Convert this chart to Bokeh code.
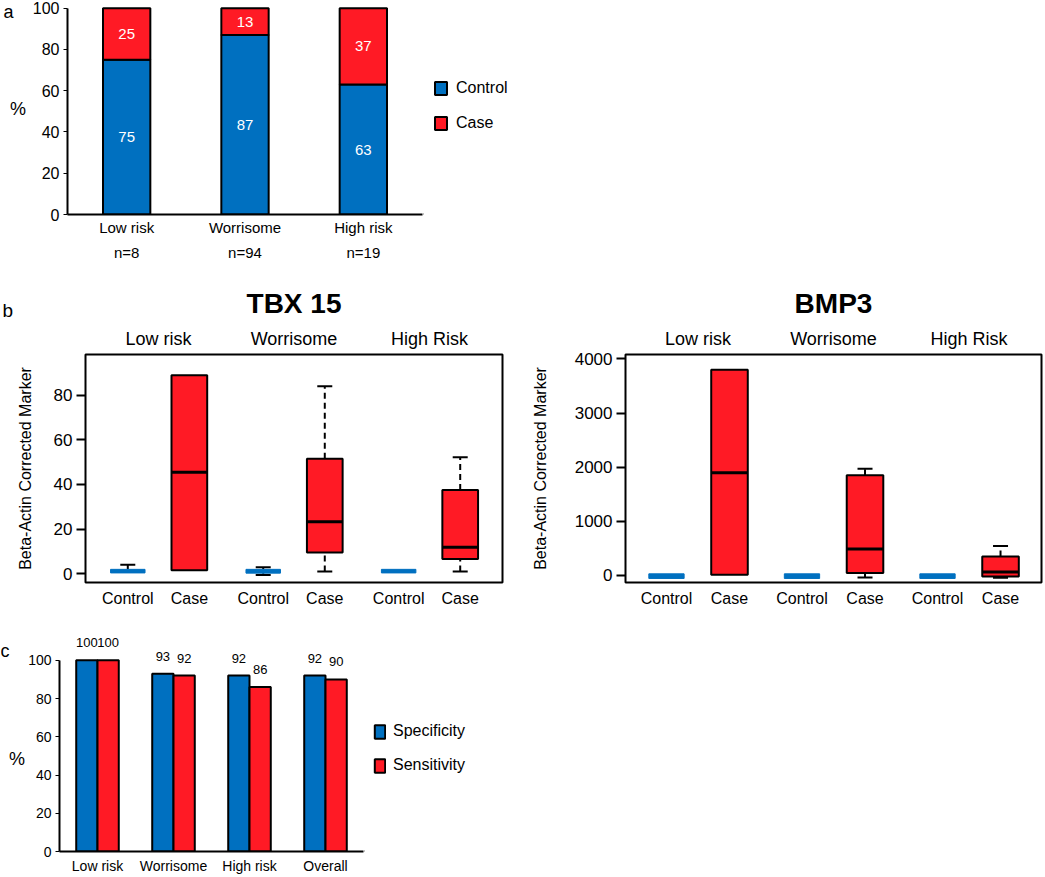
from bokeh.plotting import figure
from bokeh.models import (Range1d, FactorRange, CategoricalAxis, Legend, LegendItem,
                          Label, Title, FixedTicker, ColumnDataSource)
from bokeh.layouts import column, row
from bokeh.transform import dodge
from bokeh.core.properties import value
from bokeh.embed import file_html
from bokeh.resources import INLINE

# ---------------- data ----------------
# panel a
risk_cats = ["Low risk", "Worrisome", "High risk"]
risk_n = ["n=8", "n=94", "n=19"]
control_pct = [75, 87, 63]
case_pct = [25, 13, 37]

# panel b
box_groups = ["Low risk", "Worrisome", "High Risk"]
box_subs = ["Control", "Case"]
# order: (Low,Control),(Low,Case),(Wor,Control),(Wor,Case),(High,Control),(High,Case)
tbx_wlo = [0.3, 1.5, -0.6, 0.9, 0.3, 0.9]
tbx_q1 = [0.3, 1.5, 0.2, 9.5, 0.3, 6.5]
tbx_med = [1.0, 45.5, 1.0, 23.3, 1.0, 11.8]
tbx_q3 = [1.9, 89.0, 1.9, 51.5, 1.9, 37.5]
tbx_whi = [4.0, 89.0, 2.8, 84.0, 1.9, 52.2]

bmp_wlo = [-55, 13, -55, -37, -55, -40]
bmp_q1 = [-55, 13, -55, 45, -55, -20]
bmp_med = [0, 1895, 0, 490, 0, 65]
bmp_q3 = [30, 3800, 30, 1850, 30, 350]
bmp_whi = [30, 3800, 30, 1970, 30, 545]

# panel c
perf_cats = ["Low risk", "Worrisome", "High risk", "Overall"]
specificity = [100, 93, 92, 92]
sensitivity = [100, 92, 86, 90]

BLUE = "#0070C0"
RED = "#FF1A25"
FONT = "Liberation Sans"


def base_style(p):
    p.grid.visible = False
    p.background_fill_color = None
    p.border_fill_color = None


def blank_fig(width, height, yr=None):
    f = figure(width=width, height=height, x_range=Range1d(0, width),
               y_range=yr if yr is not None else Range1d(0, height),
               x_axis_type=None, y_axis_type=None,
               output_backend="svg", toolbar_location=None, min_border=0)
    f.outline_line_color = None
    f.background_fill_color = None
    f.border_fill_color = None
    return f


def side_text(f, x, y, text, size, align="left"):
    f.add_layout(Label(x=x, y=y, text=text, text_font=FONT, text_font_size=size,
                       text_align=align, text_baseline="middle", text_color="black"))


def legend_fig(width, height, labels, colors, loc, gw, gh, spacing, standoff):
    f = blank_fig(width, height)
    items = []
    for lab, col in zip(labels, colors):
        # a swatch source lying outside the visible range: only the legend shows it
        r = f.vbar(x=[-100], top=[0], width=1, fill_color=col, line_color="black",
                   line_width=2)
        items.append(LegendItem(label=lab, renderers=[r]))
    leg = Legend(items=items, location=loc, margin=0, padding=0, border_line_color=None,
                 background_fill_alpha=0, glyph_width=gw, glyph_height=gh, label_height=gh,
                 spacing=spacing, label_standoff=standoff, label_text_font=FONT,
                 label_text_font_size="16px", label_text_color="black")
    f.add_layout(leg)
    return f


# ---------------- panel a ----------------
HA = 263
YA = (0, 100.8)
SA = 28
pa = figure(width=395, height=HA, x_range=FactorRange(*risk_cats, range_padding=0),
            y_range=Range1d(*YA), output_backend="svg", toolbar_location=None,
            min_border_left=67 - SA, min_border_right=1, min_border_top=6,
            min_border_bottom=HA - 214)
base_style(pa)
pa.outline_line_color = None
src_a = ColumnDataSource(dict(cat=risk_cats, Control=control_pct, Case=case_pct,
                              lab_ctrl=[str(v) for v in control_pct],
                              lab_case=[str(v) for v in case_pct],
                              y_ctrl=[v / 2 for v in control_pct],
                              y_case=[c + k / 2 for c, k in zip(control_pct, case_pct)]))
pa.vbar_stack(["Control", "Case"], x="cat", width=0.4, source=src_a,
              fill_color=[BLUE, RED], line_color="black", line_width=2)
for ycol, tcol in (("y_ctrl", "lab_ctrl"), ("y_case", "lab_case")):
    pa.text(x="cat", y=ycol, text=tcol, source=src_a, text_color="white",
            text_align="center", text_baseline="middle", text_font=value(FONT),
            text_font_size="15px")
pa.yaxis.ticker = FixedTicker(ticks=[0, 20, 40, 60, 80, 100])
pa.yaxis.bounds = (0, 100)
pa.yaxis.axis_line_width = 2
pa.yaxis.major_tick_out = 4
pa.yaxis.major_tick_in = 0
pa.yaxis.minor_tick_line_color = None
pa.yaxis.major_label_standoff = 4
pa.yaxis.major_label_text_font = FONT
pa.yaxis.major_label_text_font_size = "16px"
pa.yaxis.major_label_text_color = "black"
pa.xaxis.axis_line_width = 2
pa.xaxis.major_tick_line_color = None
pa.xaxis.major_label_standoff = -2
pa.xaxis.major_label_text_font = FONT
pa.xaxis.major_label_text_font_size = "15px"
pa.xaxis.major_label_text_color = "black"
pa.extra_x_ranges = {"n": FactorRange(*risk_n, range_padding=0)}
ax_n = CategoricalAxis(x_range_name="n", axis_line_color=None, major_tick_line_color=None,
                       major_label_standoff=-1, major_label_text_font=FONT,
                       major_label_text_font_size="15px", major_label_text_color="black")
pa.add_layout(ax_n, "below")
sa = blank_fig(SA, HA, Range1d(*YA))
side_text(sa, 3, 98, "a", "18px")
side_text(sa, 17.5, 51, "%", "18px", "center")
la = legend_fig(160, HA, ["Control", "Case"], [BLUE, RED], (10, 214 - 132), 15, 16, 17, 8)


# ---------------- panel b ----------------
HB = 354
TOPB = 90


def box_panel(title, wlo, q1, med, q3, whi, yr, ticks, width, left, right, gpad, pad,
              lab_standoff):
    factors = [(g, s) for g in box_groups for s in box_subs]
    xr = FactorRange(*factors, group_padding=gpad, factor_padding=0, range_padding=pad,
                     range_padding_units="absolute")
    p = figure(width=width, height=HB, x_range=xr, y_range=Range1d(*yr),
               output_backend="svg", toolbar_location=None, title=title,
               min_border_left=left, min_border_right=right, min_border_top=TOPB,
               min_border_bottom=35)
    base_style(p)
    p.outline_line_color = "black"
    p.outline_line_width = 2
    p.outline_line_alpha = 1
    p.title.align = "center"
    p.title.text_font = FONT
    p.title.text_font_size = "28px"
    p.title.text_font_style = "bold"
    p.title.text_color = "black"
    p.title.standoff = 14
    ctrl = [i for i, f in enumerate(factors) if f[1] == "Control"]
    case = [i for i, f in enumerate(factors) if f[1] == "Case"]
    sub = lambda arr, idx: [arr[i] for i in idx]
    # whiskers
    hi_idx = [i for i in range(len(factors)) if whi[i] > q3[i]]
    lo_idx = [i for i in range(len(factors)) if wlo[i] < q1[i]]
    p.segment(x0=sub(factors, hi_idx), y0=sub(q3, hi_idx), x1=sub(factors, hi_idx),
              y1=sub(whi, hi_idx), line_color="black", line_width=2, line_dash="6 4")
    p.segment(x0=sub(factors, lo_idx), y0=sub(wlo, lo_idx), x1=sub(factors, lo_idx),
              y1=sub(q1, lo_idx), line_color="black", line_width=2, line_dash="6 4")
    p.scatter(x=sub(factors, hi_idx), y=sub(whi, hi_idx), marker="dash", size=15,
              line_color="black", line_width=2)
    p.scatter(x=sub(factors, lo_idx), y=sub(wlo, lo_idx), marker="dash", size=15,
              line_color="black", line_width=2)
    # boxes
    p.vbar(x=sub(factors, case), bottom=sub(q1, case), top=sub(q3, case), width=0.58,
           fill_color=RED, line_color="black", line_width=2)
    p.vbar(x=sub(factors, ctrl), bottom=sub(q1, ctrl), top=sub(q3, ctrl), width=0.56,
           fill_color=BLUE, line_color=BLUE, line_width=1)
    p.segment(x0=[(g, s, -0.29) for g, s in sub(factors, case)], y0=sub(med, case),
              x1=[(g, s, 0.29) for g, s in sub(factors, case)], y1=sub(med, case),
              line_color="black", line_width=3)
    # axes
    p.yaxis.ticker = FixedTicker(ticks=ticks)
    p.yaxis.axis_line_color = None
    p.yaxis.major_tick_out = 9
    p.yaxis.major_tick_in = 0
    p.yaxis.major_tick_line_width = 2
    p.yaxis.minor_tick_line_color = None
    p.yaxis.major_label_standoff = 4
    p.yaxis.major_label_text_font = FONT
    p.yaxis.major_label_text_font_size = "17px"
    p.yaxis.major_label_text_color = "black"
    p.yaxis.axis_label = "Beta-Actin Corrected Marker"
    p.yaxis.axis_label_text_font = FONT
    p.yaxis.axis_label_text_font_size = "16px"
    p.yaxis.axis_label_text_font_style = "normal"
    p.yaxis.axis_label_text_color = "black"
    p.yaxis.axis_label_standoff = lab_standoff
    xa = p.xaxis[0]
    xa.axis_line_color = None
    xa.major_tick_line_color = None
    xa.major_label_standoff = 1
    xa.major_label_text_font = FONT
    xa.major_label_text_font_size = "16px"
    xa.major_label_text_color = "black"
    xa.group_text_font_size = "1px"
    xa.group_text_color = None
    xa.separator_line_alpha = 0
    top_ax = CategoricalAxis(axis_line_color=None, major_tick_line_color=None,
                             major_label_text_font_size="1px", major_label_text_color=None,
                             major_label_standoff=0,
                             group_text_font=FONT, group_text_font_size="18px",
                             group_text_font_style="normal", group_text_color="black",
                             separator_line_alpha=0)
    p.add_layout(top_ax, "above")
    return p


LB = 13
lb = blank_fig(LB, HB)
lb.add_layout(Title(text="b", align="left", offset=2, standoff=68, text_font=FONT,
                    text_font_size="19px", text_font_style="normal", text_color="black"),
              "above")
pb1 = box_panel("TBX 15", tbx_wlo, tbx_q1, tbx_med, tbx_q3, tbx_whi, (-4, 98.3),
                [0, 20, 40, 60, 80], 512, 82 - LB, 23, 0.2, 0.187, 17)
pb2 = box_panel("BMP3", bmp_wlo, bmp_q1, bmp_med, bmp_q3, bmp_whi, (-130, 4081),
                [0, 1000, 2000, 3000, 4000], 519, 100, 3, 0.15, 0.15, 23)

# ---------------- panel c ----------------
HC = 259
YC = (0, 115.6)
SC = 25
pc = figure(width=364 - SC, height=HC, x_range=FactorRange(*perf_cats, range_padding=0),
            y_range=Range1d(*YC), output_backend="svg", toolbar_location=None,
            min_border_left=57 - SC, min_border_right=1, min_border_top=13,
            min_border_bottom=25)
base_style(pc)
pc.outline_line_color = None
src_c = ColumnDataSource(dict(cat=perf_cats, spec=specificity, sens=sensitivity,
                              spec_t=[str(v) for v in specificity],
                              sens_t=[str(v) for v in sensitivity]))
pc.vbar(x=dodge("cat", -0.14, range=pc.x_range), top="spec", width=0.28,
        source=src_c, fill_color=BLUE, line_color="black", line_width=2)
pc.vbar(x=dodge("cat", 0.14, range=pc.x_range), top="sens", width=0.28,
        source=src_c, fill_color=RED, line_color="black", line_width=2)
for off, col in ((-0.14, "spec"), (0.14, "sens")):
    pc.text(x=dodge("cat", off, range=pc.x_range), y=col, text=col + "_t", source=src_c,
            y_offset=-13, text_align="center", text_baseline="bottom", text_color="black",
            text_font=value(FONT), text_font_size="13px")
pc.yaxis.ticker = FixedTicker(ticks=[0, 20, 40, 60, 80, 100])
pc.yaxis.bounds = (0, 100)
pc.yaxis.axis_line_width = 2
pc.yaxis.major_tick_out = 4
pc.yaxis.major_tick_in = 0
pc.yaxis.minor_tick_line_color = None
pc.yaxis.major_label_standoff = 4
pc.yaxis.major_label_text_font = FONT
pc.yaxis.major_label_text_font_size = "14px"
pc.yaxis.major_label_text_color = "black"
pc.xaxis.axis_line_width = 2
pc.xaxis.major_tick_line_color = None
pc.xaxis.major_label_standoff = 0
pc.xaxis.major_label_text_font = FONT
pc.xaxis.major_label_text_font_size = "14px"
pc.xaxis.major_label_text_color = "black"
sc = blank_fig(SC, HC, Range1d(*YC))
side_text(sc, 0, 105, "c", "18px")
side_text(sc, 16.5, 48.5, "%", "18px", "center")
lc = legend_fig(200, HC, ["Specificity", "Sensitivity"], [BLUE, RED],
                (9, 851 - 774), 13, 17, 16, 7)

layout = column(row(sa, pa, la), row(lb, pb1, pb2), row(sc, pc, lc))
open("out.html", "w").write(file_html(layout, INLINE))
